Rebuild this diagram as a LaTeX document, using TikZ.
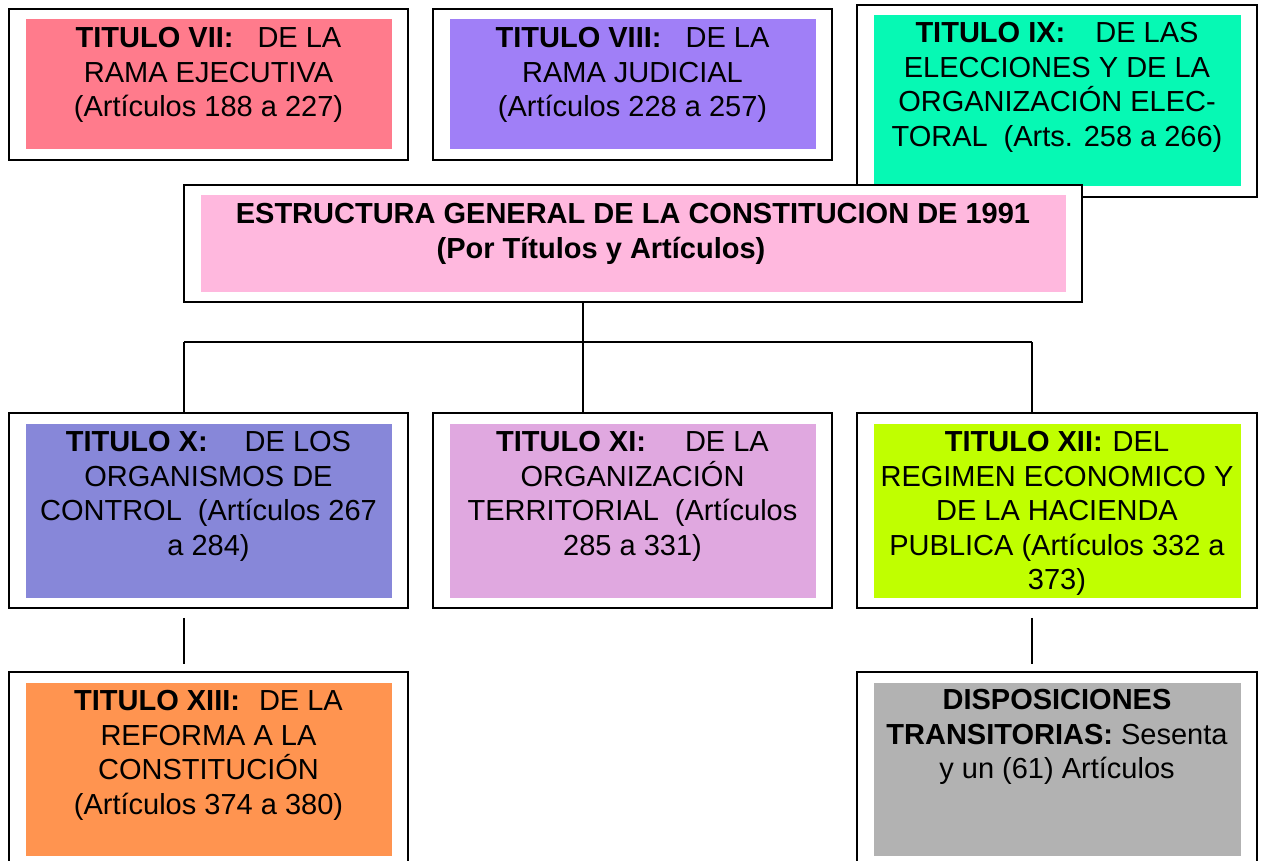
\documentclass[tikz,border=0pt]{standalone}
\usepackage{fontspec}
\setmainfont{Liberation Sans}
\usepackage{tikz}
\usetikzlibrary{positioning,calc}

\definecolor{rojo}{HTML}{FF7B8C}
\definecolor{morado}{HTML}{A07FF7}
\definecolor{verde}{HTML}{06F9B4}
\definecolor{rosa}{HTML}{FFB8DE}
\definecolor{azul}{HTML}{8787D9}
\definecolor{lila}{HTML}{E0A8E0}
\definecolor{lima}{HTML}{C0FF00}
\definecolor{naranja}{HTML}{FF9450}
\definecolor{gris}{HTML}{B2B2B2}

\begin{document}
\begin{tikzpicture}[
    x=1pt, y=-1pt,
    font=\fontsize{29}{34.5}\selectfont,
    marco/.style={
		rectangle,
		draw=black,
		line width=1.6pt,
		fill=white,
		minimum width=399pt,
		minimum height=151pt
	},
	relleno/.style={
		rectangle,
		draw=none,
		minimum width=366pt,
		minimum height=130pt
	},
	texto/.style={
		align=center,
		inner sep=0pt
	},
	linea/.style={
		line width=1.4pt
	}
  ]

\useasboundingbox (0,0) rectangle (1261,861);

% // Fila de arriba
\node [marco] (t7) at (208.5,84.5) {};
\node [relleno, fill=rojo] (t7f) at (t7.center) {};
\node [texto, below=8pt of t7f.north] (t7t)
 {\textbf{TITULO VII:}\hspace{24pt}DE LA\\RAMA EJECUTIVA\\(Artículos 188 a 227)};

\node [marco] (t8) at (632.5,84.5) {};
\node [relleno, fill=morado] (t8f) at (t8.center) {};
\node [texto, below=8pt of t8f.north] (t8t)
 {\textbf{TITULO VIII:}\hspace{24pt}DE LA\\RAMA JUDICIAL\\(Artículos 228 a 257)};

\node [marco, minimum width=400pt, minimum height=192pt] (t9) at (1057,101) {};
\node [relleno, fill=verde, minimum width=367pt, minimum height=171pt] (t9f) at (t9.center) {};
\node [texto, below=7pt of t9f.north] (t9t)
 {\textbf{TITULO IX:}\hspace{30pt}DE LAS\\ELECCIONES Y DE LA\\ORGANIZACIÓN ELEC-\\TORAL\hspace{16pt}(Arts. 258 a 266)};

% // El titulo general
\node [marco, minimum width=898pt, minimum height=117pt] (est) at (633,243.5) {};
\node [relleno, fill=rosa, minimum width=865pt, minimum height=96pt] (estf) at (est.center) {};
\node [texto, below=8pt of estf.north, font=\fontsize{29}{35}\selectfont\bfseries] (estt)
 {ESTRUCTURA GENERAL DE LA CONSTITUCION DE 1991\\(Por Títulos y Artículos)\hspace*{64pt}};

% // Fila del medio
\node [marco, minimum height=195pt] (t10) at (208.5,510.5) {};
\node [relleno, fill=azul, minimum height=174pt] (t10f) at (t10.center) {};
\node [texto, below=8pt of t10f.north] (t10t)
 {\textbf{TITULO X:}\hspace{37pt}DE LOS\\ORGANISMOS DE\\CONTROL\hspace{16pt}(Artículos 267\\a 284)};

\node [marco, minimum height=195pt] (t11) at (632.5,510.5) {};
\node [relleno, fill=lila, minimum height=174pt] (t11f) at (t11.center) {};
\node [texto, below=8pt of t11f.north] (t11t)
 {\textbf{TITULO XI:}\hspace{39pt}DE LA\\ORGANIZACIÓN\\TERRITORIAL\hspace{16pt}(Artículos\\285 a 331)};

\node [marco, minimum width=400pt, minimum height=195pt] (t12) at (1057,510.5) {};
\node [relleno, fill=lima, minimum width=367pt, minimum height=174pt] (t12f) at (t12.center) {};
\node [texto, below=8pt of t12f.north] (t12t)
 {\textbf{TITULO XII:}\hspace{10pt}DEL\\REGIMEN ECONOMICO Y\\DE LA HACIENDA\\PUBLICA (Artículos 332 a\\373)};

% // Fila de abajo
\node [marco, minimum height=194pt] (t13) at (208.5,769) {};
\node [relleno, fill=naranja, minimum height=173pt] (t13f) at (t13.center) {};
\node [texto, below=8pt of t13f.north] (t13t)
 {\textbf{TITULO XIII:}\hspace{19pt}DE LA\\REFORMA A LA\\CONSTITUCIÓN\\(Artículos 374 a 380)};

\node [marco, minimum width=400pt, minimum height=194pt] (disp) at (1057,769) {};
\node [relleno, fill=gris, minimum width=367pt, minimum height=173pt] (dispf) at (disp.center) {};
\node [texto, below=7pt of dispf.north] (dispt)
 {\textbf{DISPOSICIONES}\\\textbf{TRANSITORIAS:} Sesenta\\y un (61) Artículos};

% // Lineas
\coordinate (busL) at (184,342);
\coordinate (busM) at (583,342);
\coordinate (busR) at (1032,342);

\draw [linea] (est.south -| busM) -- (busM);
\draw [linea] (busL) -- (busR);
\draw [linea] (busL) -- (busL |- t10.north);
\draw [linea] (busM) -- (busM |- t11.north);
\draw [linea] (busR) -- (busR |- t12.north);

\draw [linea] ($(t10.south -| busL)+(0,9)$) -- ($(t13.north -| busL)+(0,-7)$);
\draw [linea] ($(t12.south -| busR)+(0,9)$) -- ($(disp.north -| busR)+(0,-7)$);

\end{tikzpicture}
\end{document}
